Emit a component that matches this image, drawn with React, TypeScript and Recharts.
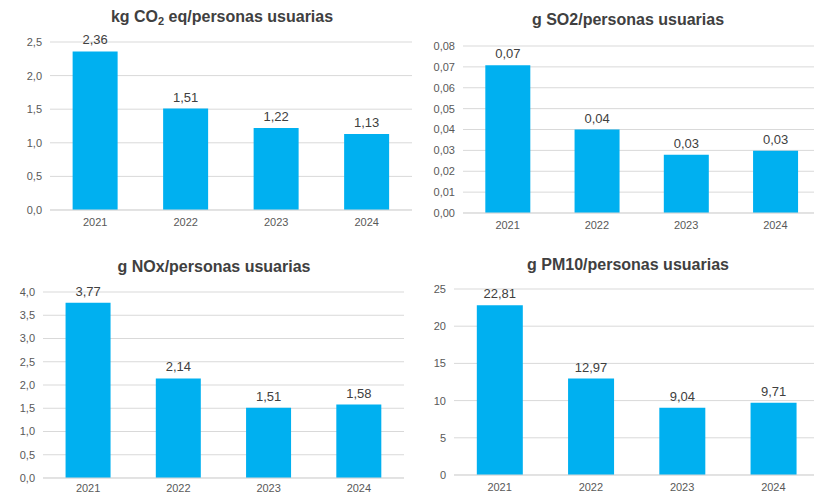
import React from 'react'
import { BarChart, Bar, XAxis, YAxis, CartesianGrid, LabelList } from 'recharts'

const years = ['2021', '2022', '2023', '2024']
const co2 = [2.36, 1.51, 1.22, 1.13]
const so2 = [0.0708, 0.04, 0.0279, 0.0298]
const nox = [3.77, 2.14, 1.51, 1.58]
const pm10 = [22.81, 12.97, 9.04, 9.71]

const co2Ticks = [0, 0.5, 1, 1.5, 2, 2.5]
const so2Ticks = [0, 0.01, 0.02, 0.03, 0.04, 0.05, 0.06, 0.07, 0.08]
const noxTicks = [0, 0.5, 1, 1.5, 2, 2.5, 3, 3.5, 4]
const pm10Ticks = [0, 5, 10, 15, 20, 25]

const BLUE = '#00B0F0'
const GRID = '#d9d9d9'
const FONT = '"Liberation Sans", Arial, sans-serif'

const comma = (d: number) => (v: any) => Number(v).toFixed(d).replace('.', ',')

function Panel({ left, top, width, height, margin, yWidth, xHeight, xMargin = 2, values, ticks, tickDec, labelDec }: any) {
  const data = years.map((y, i) => ({ year: y, v: values[i] }))
  return (
    <div style={{ position: 'absolute', left, top, width, height }}>
      <BarChart width={width} height={height} data={data} margin={margin} barCategoryGap="25%">
        <CartesianGrid vertical={false} stroke={GRID} />
        <XAxis dataKey="year" height={xHeight} axisLine={{ stroke: GRID }} tickLine={false} tickMargin={xMargin}
          tick={{ fill: '#595959', fontSize: 11, fontFamily: FONT }} />
        <YAxis width={yWidth} domain={[ticks[0], ticks[ticks.length - 1]]} ticks={ticks} interval={0}
          axisLine={false} tickLine={false} tickFormatter={comma(tickDec)}
          tick={{ fill: '#595959', fontSize: 11, fontFamily: FONT }} />
        <Bar dataKey="v" fill={BLUE} isAnimationActive={false}>
          <LabelList dataKey="v" position="top" offset={7} formatter={comma(labelDec)}
            style={{ fill: '#404040', fontSize: 13, fontFamily: FONT }} />
        </Bar>
      </BarChart>
    </div>
  )
}

function Title({ cx, cy, children }: any) {
  return (
    <div style={{
      position: 'absolute', left: cx - 200, top: cy - 8, width: 400, textAlign: 'center',
      fontFamily: FONT, fontWeight: 'bold', fontSize: 16, lineHeight: '16px', color: '#404040', whiteSpace: 'nowrap'
    }}>{children}</div>
  )
}

export default function App() {
  return (
    <div style={{ position: 'absolute', left: 0, top: 0, width: 814, height: 494, overflow: 'hidden', background: '#fff' }}>
      <Panel left={0} top={0} width={420} height={240} margin={{ top: 42, right: 8, left: 0, bottom: 0 }}
        yWidth={50} xHeight={30} values={co2} ticks={co2Ticks} tickDec={1} labelDec={2} />
      <Panel left={410} top={0} width={420} height={240} margin={{ top: 46, right: 10, left: 0, bottom: 0 }}
        yWidth={53} xHeight={27} values={so2} ticks={so2Ticks} tickDec={2} labelDec={2} />
      <Panel left={0} top={250} width={420} height={244} margin={{ top: 42, right: 16, left: 0, bottom: 0 }}
        yWidth={43} xHeight={16} xMargin={0} values={nox} ticks={noxTicks} tickDec={1} labelDec={2} />
      <Panel left={410} top={250} width={420} height={244} margin={{ top: 39, right: 11, left: 0, bottom: 0 }}
        yWidth={44} xHeight={19} values={pm10} ticks={pm10Ticks} tickDec={0} labelDec={2} />
      <Title cx={222} cy={17}>kg CO<sub style={{ fontSize: 11, verticalAlign: '-3px', lineHeight: 0 }}>2</sub> eq/personas usuarias</Title>
      <Title cx={628} cy={20}>g SO2/personas usuarias</Title>
      <Title cx={214} cy={267}>g NOx/personas usuarias</Title>
      <Title cx={628} cy={265}>g PM10/personas usuarias</Title>
    </div>
  )
}
